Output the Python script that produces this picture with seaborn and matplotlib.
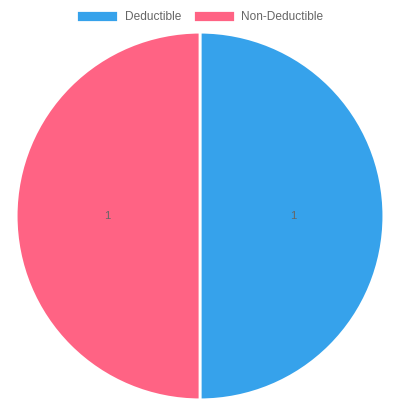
import matplotlib
matplotlib.use("Agg")
import matplotlib.pyplot as plt
import seaborn as sns

labels = ["Deductible", "Non-Deductible"]
values = [1, 1]
colors = ["#36A2EB", "#FF6384"]

sns.set_theme(style="white")
plt.rcParams['font.family'] = ['Liberation Sans', 'DejaVu Sans']

fig = plt.figure(figsize=(4, 4), dpi=100)
ax = fig.add_axes([0.045, 0.005, 0.91, 0.91])

total = sum(values)
wedges, texts, autotexts = ax.pie(
    values, colors=colors, startangle=90, counterclock=False,
    autopct=lambda p: f"{p * total / 100:.0f}", pctdistance=0.505,
    wedgeprops=dict(edgecolor="white", linewidth=2),
    textprops=dict(color="#666666", fontsize=8))
ax.set_xlim(-0.99, 0.99)
ax.set_ylim(-0.99, 0.99)
ax.set_aspect("equal")

fig.legend(wedges, labels, loc="upper center", bbox_to_anchor=(0.5, 0.995),
           ncol=2, frameon=False, fontsize=8.6, labelcolor="#666666",
           handlelength=3.5, handleheight=1.15, handletextpad=0.55,
           columnspacing=1.0, borderaxespad=0.3)

fig.savefig("out.png", dpi=100)
